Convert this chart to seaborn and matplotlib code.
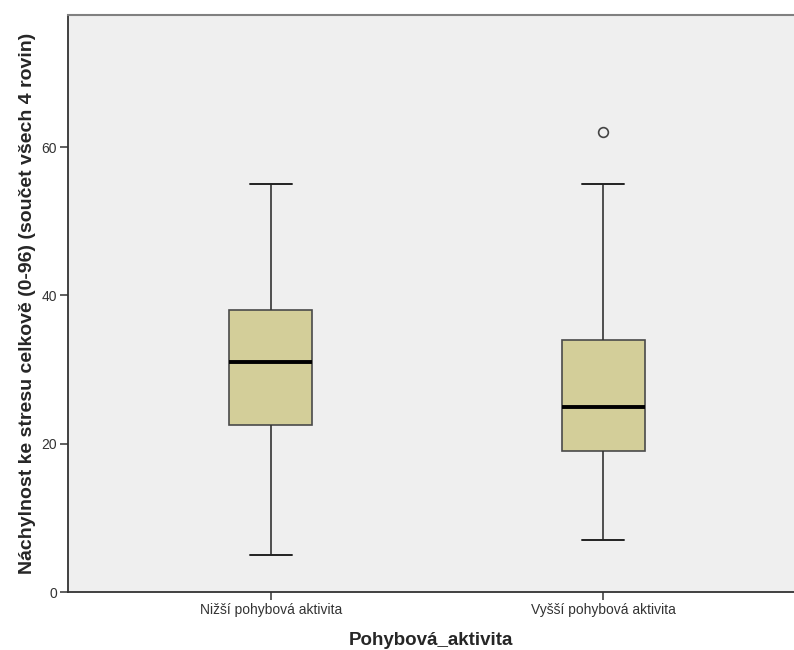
import matplotlib
matplotlib.use("Agg")
import matplotlib.pyplot as plt
import seaborn as sns
import pandas as pd

# Scores per activity group (sum of the four stress-proneness levels)
groups = ["Nižší pohybová aktivita", "Vyšší pohybová aktivita"]
lower_activity = [5, 22.5, 31, 38, 55]
higher_activity = [7, 19, 19, 19, 25, 34, 34, 55, 62]
y_ticks = [0, 20, 40, 60]

df = pd.DataFrame({
    "Pohybová_aktivita": [groups[0]] * len(lower_activity) + [groups[1]] * len(higher_activity),
    "skore": lower_activity + higher_activity,
})

sns.set_style("white")
plt.rcParams["font.family"] = ["Liberation Sans", "DejaVu Sans"]

fig = plt.figure(figsize=(7.94, 6.5), dpi=100)
ax = fig.add_axes([68 / 794, 58 / 650, 1 - 68 / 794, 577 / 650])
ax.set_facecolor("#efefef")

edge = "#4a4a4a"
sns.boxplot(
    data=df, x="Pohybová_aktivita", y="skore", order=groups, ax=ax,
    width=0.25, color="#d3ce99", saturation=1, whis=1.5,
    boxprops=dict(edgecolor=edge, linewidth=1.2),
    whiskerprops=dict(color="#333333", linewidth=1.2),
    capprops=dict(color="#222222", linewidth=1.4),
    medianprops=dict(color="black", linewidth=2.8),
    flierprops=dict(marker="o", markersize=7, markerfacecolor="none",
                    markeredgecolor="#444444", markeredgewidth=1.2),
)

ax.set_xlim(-0.611, 1.575)
ax.set_ylim(0, 77.8)
ax.set_yticks(y_ticks)
ax.set_yticklabels([str(t) for t in y_ticks])

for side in ["left", "bottom"]:
    ax.spines[side].set_color("#333333")
    ax.spines[side].set_linewidth(1.3)
ax.spines["top"].set_color("#808080")
ax.spines["top"].set_linewidth(1.5)
ax.spines["right"].set_visible(False)

ax.tick_params(axis="both", direction="out", length=6, width=1.2, color="#444444",
               labelsize=10, labelcolor="#333333", pad=2, left=True, bottom=True)

ax.set_xlabel("Pohybová_aktivita", fontsize=13.5, fontweight="bold", labelpad=11)
ax.set_ylabel("Náchylnost ke stresu celkově (0-96) (součet všech 4 rovin)",
              fontsize=14, fontweight="bold", labelpad=4)

fig.savefig("out.png", dpi=100, facecolor="white")
